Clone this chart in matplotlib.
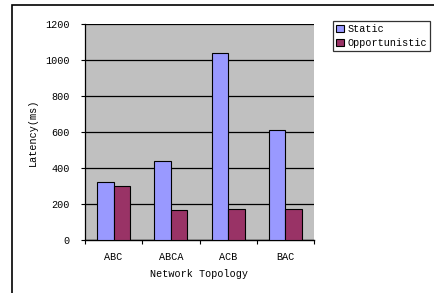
import matplotlib
matplotlib.use("Agg")
import matplotlib.pyplot as plt
import numpy as np
from matplotlib.patches import Rectangle

# Data
topologies = ["ABC", "ABCA", "ACB", "BAC"]
static_ms = [325, 440, 1037, 610]
opportunistic_ms = [298, 165, 170, 175]

W, H = 434, 293
fig = plt.figure(figsize=(W / 100, H / 100), dpi=100)
fig.patch.set_facecolor("white")

# outer chart frame (left and top edges visible)
fig.patches.append(Rectangle((12 / W, -0.1), 1.2, (H - 5) / H + 0.1,
                             transform=fig.transFigure, fill=False,
                             edgecolor="black", linewidth=1.2))

# plot area in pixels: x 85..314, y 24..240
ax = fig.add_axes([85 / W, 1 - 240 / H, (314 - 85) / W, (240 - 24) / H])
ax.set_facecolor("#c0c0c0")

x = np.arange(len(topologies))
bw = 0.29
ax.bar(x - bw / 2, static_ms, bw, color="#9999ff", edgecolor="black",
       linewidth=0.8, label="Static", zorder=3)
ax.bar(x + bw / 2, opportunistic_ms, bw, color="#993366", edgecolor="black",
       linewidth=0.8, label="Opportunistic", zorder=3)

font = dict(family="Liberation Mono", size=7.3)

ax.set_xlim(-0.5, len(topologies) - 0.5)
ax.set_ylim(0, 1200)
ax.set_yticks(range(0, 1201, 200))
ax.set_yticklabels([str(v) for v in range(0, 1201, 200)], **font)
ax.yaxis.grid(True, color="black", linewidth=0.9, zorder=1)
ax.set_axisbelow(True)

# category labels centred, ticks at boundaries
ax.set_xticks(x)
ax.set_xticklabels(topologies, **font)
ax.tick_params(axis="x", length=0, pad=9)
ax.set_xticks(np.arange(-0.5, len(topologies)), minor=True)
ax.tick_params(axis="x", which="minor", length=3, direction="out", width=0.8)
ax.tick_params(axis="y", length=3, direction="out", width=0.8, pad=8)

for s in ["top", "right"]:
    ax.spines[s].set_visible(False)
ax.spines["left"].set_linewidth(0.9)
ax.spines["bottom"].set_linewidth(1.0)

ax.set_xlabel("Network Topology", labelpad=5, **font)
ax.set_ylabel("Latency(ms)", labelpad=5, **font)

leg = fig.legend(loc="upper left", bbox_to_anchor=(333 / W, 1 - 21 / H),
                 prop=dict(family="Liberation Mono", size=7.3),
                 frameon=True, fancybox=False, edgecolor="black",
                 handlelength=0.8, handleheight=0.8, handletextpad=0.3,
                 borderpad=0.3, labelspacing=0.4, borderaxespad=0)
leg.get_frame().set_linewidth(0.9)

fig.savefig("out.png", dpi=100)
